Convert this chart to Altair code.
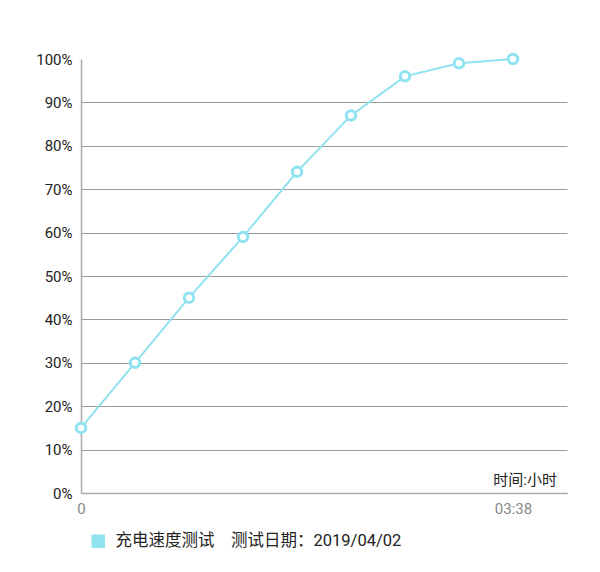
import altair as alt
import pandas as pd

idx = [0, 1, 2, 3, 4, 5, 6, 7, 8]
pct = [15, 30, 45, 59, 74, 87, 96, 99, 100]
series_name = "充电速度测试\u3000测试日期：2019/04/02"
x_tick_vals = [0, 8]
x_tick_labels = ["0", "03:38"]
unit_label = ["时间:小时"]

FONT = "Roboto, 'Noto Sans CJK SC'"
COLOR = "#8fe3f0"

df = pd.DataFrame({"i": idx, "p": pct, "s": [series_name] * len(idx)})

xscale = alt.Scale(domain=[0, 9], nice=False, zero=False)
yscale = alt.Scale(domain=[0, 100], nice=False)

label_expr = " : ".join(
    [f"datum.value == {v} ? '{l}'" for v, l in zip(x_tick_vals, x_tick_labels)]
) + " : ''"

x_enc = alt.X("i:Q", scale=xscale, title=None,
              axis=alt.Axis(values=x_tick_vals, labelExpr=label_expr, grid=False,
                            ticks=False, domainColor="#aaaaaa", domainWidth=1.5,
                            labelColor="#888888", labelFontSize=15, labelPadding=8,
                            labelFont=FONT, labelFlush=False))
y_enc = alt.Y("p:Q", scale=yscale, title=None,
              axis=alt.Axis(values=list(range(0, 101, 10)),
                            labelExpr="datum.value + '%'",
                            grid=True, gridColor="#9a9a9a", gridWidth=1,
                            gridOpacity={"condition": {"test": "datum.value == 100", "value": 0}, "value": 1},
                            ticks=False, domainColor="#aaaaaa", domainWidth=1.5,
                            labelColor="#222222", labelFontSize=15, labelPadding=9,
                            labelFont=FONT))

line = alt.Chart(df).mark_line(color=COLOR, strokeWidth=2).encode(
    x=x_enc, y=y_enc,
    color=alt.Color("s:N", scale=alt.Scale(range=[COLOR]),
                    legend=alt.Legend(title=None, orient="none", legendX=9, legendY=474,
                                      symbolType="square", symbolSize=180,
                                      symbolFillColor=COLOR, symbolStrokeColor=COLOR,
                                      symbolStrokeWidth=0, symbolOpacity=1,
                                      labelFontSize=16.5,
                                      labelFont=FONT, labelColor="#222222",
                                      labelLimit=600, labelOffset=9)),
)

pts = alt.Chart(df).mark_point(filled=True, fill="white", stroke=COLOR,
                               strokeWidth=3, size=90, opacity=1, shape="circle").encode(
    x=alt.X("i:Q", scale=xscale), y=alt.Y("p:Q", scale=yscale)
)

unit_df = pd.DataFrame({"t": unit_label, "x": [9], "y": [0]})
unit = alt.Chart(unit_df).mark_text(align="right", baseline="bottom", dx=-10, dy=-5,
                                    fontSize=15, font=FONT, color="#222222").encode(
    x=alt.X("x:Q", scale=xscale), y=alt.Y("y:Q", scale=yscale), text="t:N"
)

chart = alt.layer(line, pts, unit).properties(
    width=486, height=434,
    background="white",
    autosize=alt.AutoSizeParams(type="none"),
    padding={"left": 73, "top": 51, "right": 25, "bottom": 71},
).configure_view(stroke=None)

chart.save("out.html", embed_options={"renderer": "svg", "actions": False})
